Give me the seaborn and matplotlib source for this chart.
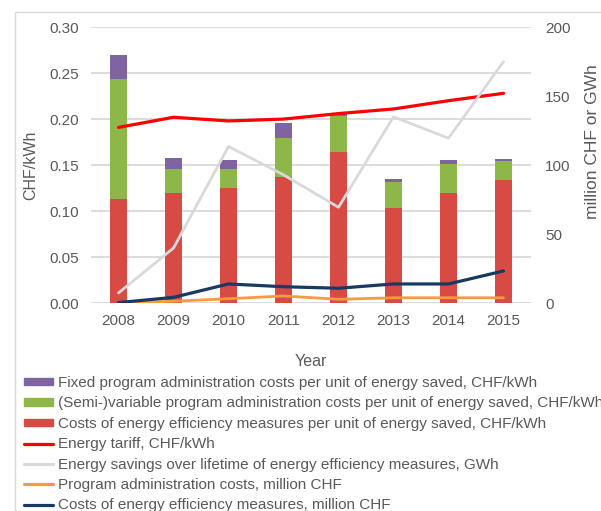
import seaborn as sns
import matplotlib
matplotlib.use('Agg')
import matplotlib.pyplot as plt
from matplotlib.patches import Patch, Rectangle
from matplotlib.lines import Line2D

sns.set_theme(style='white')
plt.rcParams['font.family'] = ['Liberation Sans', 'DejaVu Sans']

# data
years = ['2008', '2009', '2010', '2011', '2012', '2013', '2014', '2015']
fixed_admin = [0.027, 0.012, 0.010, 0.016, 0.002, 0.003, 0.005, 0.003]
var_admin = [0.130, 0.026, 0.021, 0.043, 0.039, 0.029, 0.031, 0.020]
measures = [0.113, 0.120, 0.125, 0.137, 0.164, 0.103, 0.120, 0.134]
tariff = [0.191, 0.202, 0.198, 0.200, 0.206, 0.211, 0.220, 0.228]
savings_gwh = [7.5, 40, 113.5, 93, 69.5, 135, 119.5, 175]
admin_mchf = [0.3, 1.5, 3.3, 5.3, 2.9, 4.0, 4.0, 4.0]
measures_mchf = [0.5, 4.3, 14, 12, 10.9, 14, 14, 23.4]

labels = [
    'Fixed program administration costs per unit of energy saved, CHF/kWh',
    '(Semi-)variable program administration costs per unit of energy saved, CHF/kWh',
    'Costs of energy efficiency measures per unit of energy saved, CHF/kWh',
    'Energy tariff, CHF/kWh',
    'Energy savings over lifetime of energy efficiency measures, GWh',
    'Program administration costs, million CHF',
    'Costs of energy efficiency measures, million CHF',
]

c_purple = '#8064A2'
c_green = '#8DB849'
c_red = '#D84B45'
c_tariff = '#FF0000'
c_gray = '#D9D9D9'
c_orange = '#FB9A3A'
c_navy = '#173A63'
txt = '#595959'
fs = 11

# stacked totals
red_top = measures
green_top = [m + v for m, v in zip(measures, var_admin)]
purple_top = [g + f for g, f in zip(green_top, fixed_admin)]

fig = plt.figure(figsize=(6.01, 5.11), dpi=100)
ax = fig.add_axes([91 / 601, (511 - 303.3) / 511, 440 / 601, 276.3 / 511])

# outer frame of the original chart
fig.patches.append(Rectangle((15 / 601, -0.5), 2, 0.5 + 1 - 12 / 511,
                             transform=fig.transFigure, fill=False,
                             ec='#D9D9D9', lw=1))

sns.barplot(x=years, y=purple_top, color=c_purple, saturation=1, width=0.31,
            linewidth=0, errorbar=None, ax=ax, zorder=2)
sns.barplot(x=years, y=green_top, color=c_green, saturation=1, width=0.31,
            linewidth=0, errorbar=None, ax=ax, zorder=2)
sns.barplot(x=years, y=red_top, color=c_red, saturation=1, width=0.31,
            linewidth=0, errorbar=None, ax=ax, zorder=2)
sns.lineplot(x=years, y=tariff, color=c_tariff, lw=2.3, ax=ax, zorder=3)

ax.set_ylim(0, 0.30)
ax.set_yticks([0, 0.05, 0.10, 0.15, 0.20, 0.25, 0.30])
ax.set_yticklabels(['0.00', '0.05', '0.10', '0.15', '0.20', '0.25', '0.30'])
ax.yaxis.grid(True, color='#D9D9D9', lw=1.3, zorder=0)
ax.set_axisbelow(True)
for s in ax.spines.values():
    s.set_visible(False)
ax.tick_params(axis='both', length=0, labelsize=fs, labelcolor=txt)
ax.tick_params(axis='y', pad=9)
ax.tick_params(axis='x', pad=8)
ax.set_ylabel('CHF/kWh', fontsize=11.5, color=txt)
ax.yaxis.set_label_coords(-0.121, 0.5)
ax.set_xlabel('Year', fontsize=11.5, color=txt)
ax.xaxis.set_label_coords(0.5, -0.182)

ax2 = ax.twinx()
sns.lineplot(x=years, y=savings_gwh, color=c_gray, lw=2.0, ax=ax2)
sns.lineplot(x=years, y=admin_mchf, color=c_orange, lw=2.0, ax=ax2)
sns.lineplot(x=years, y=measures_mchf, color=c_navy, lw=2.3, ax=ax2)
ax2.set_ylim(0, 200)
ax2.set_yticks([0, 50, 100, 150, 200])
for s in ax2.spines.values():
    s.set_visible(False)
ax2.tick_params(axis='y', length=0, labelsize=fs, labelcolor=txt, pad=10)
ax2.set_ylabel('million CHF or GWh', fontsize=12.5, color=txt)
ax2.yaxis.set_label_coords(1.122, 0.585)
ax.set_xlim(-0.5, 7.5)

handles = [
    Patch(color=c_purple),
    Patch(color=c_green),
    Patch(color=c_red),
    Line2D([], [], color=c_tariff, lw=2.3),
    Line2D([], [], color=c_gray, lw=2.3),
    Line2D([], [], color=c_orange, lw=2.3),
    Line2D([], [], color=c_navy, lw=2.3),
]
leg = fig.legend(handles, labels, loc='upper left',
                 bbox_to_anchor=(24 / 601, 1 - 376 / 511), frameon=False,
                 fontsize=fs, handlelength=1.9, handleheight=0.4,
                 handletextpad=0.3, labelspacing=0.42, borderaxespad=0,
                 borderpad=0)
for t in leg.get_texts():
    t.set_color(txt)

fig.savefig('out.png', dpi=100)
